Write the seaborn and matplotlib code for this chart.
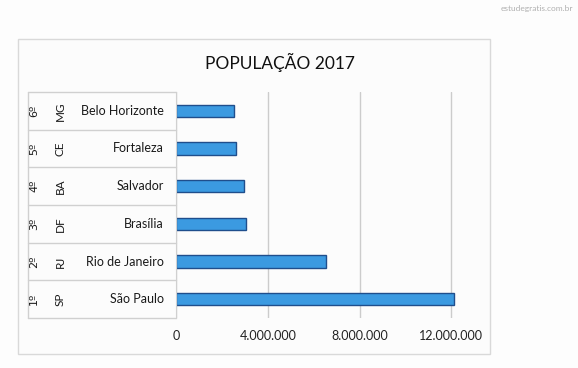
import matplotlib
matplotlib.use("Agg")
import matplotlib.pyplot as plt
import matplotlib.transforms as mtransforms
from matplotlib.patches import Rectangle
import pandas as pd
import seaborn as sns

# dados (de cima para baixo)
cidades = ["Belo Horizonte", "Fortaleza", "Salvador", "Brasília", "Rio de Janeiro", "São Paulo"]
ufs = ["MG", "CE", "BA", "DF", "RJ", "SP"]
posicoes = ["6º", "5º", "4º", "3º", "2º", "1º"]
populacao = [2523794, 2627482, 2953986, 3039444, 6520266, 12106920]
xticks = [0, 4000000, 8000000, 12000000]
xtick_labels = ["0", "4.000.000", "8.000.000", "12.000.000"]

df = pd.DataFrame({"cidade": cidades, "populacao": populacao})

sns.set_style("white")
plt.rcParams["font.family"] = ["Lato", "DejaVu Sans"]

W, H = 578, 368
fig = plt.figure(figsize=(W / 100, H / 100), dpi=100)
fig.patch.set_facecolor("#fdfdfd")

# moldura do gráfico
fig.add_artist(Rectangle((18 / W, 1 - 354 / H), 472 / W, 315 / H, transform=fig.transFigure,
                         facecolor="#fcfcfc", edgecolor="#d9d9d9", lw=1, zorder=-5))

left, right, top, bottom = 176, 478, 92, 318
ax = fig.add_axes([left / W, 1 - bottom / H, (right - left) / W, (bottom - top) / H])
ax.set_facecolor("none")
ax.set_zorder(1)

sns.barplot(data=df, x="populacao", y="cidade", order=cidades, orient="h", ax=ax,
            color="#3b9ae1", edgecolor="#1f4e8c", linewidth=1, width=0.33, saturation=1)

scale = 4000000 / 91.8  # valor por pixel
ax.set_xlim(0, (right - left) * scale)
ax.set_ylim(5.5, -0.5)
ax.set_xticks(xticks)
ax.set_xticklabels(xtick_labels, fontsize=9, color="#222222")
ax.tick_params(axis="x", length=0, pad=9)
ax.set_yticks([])
ax.set_xlabel("")
ax.set_ylabel("")
ax.grid(axis="x", color="#cccccc", lw=1)
ax.set_axisbelow(True)
for s in ["top", "right", "bottom"]:
    ax.spines[s].set_visible(False)
ax.spines["left"].set_color("#d0d0d0")

# tabela de categorias à esquerda
tr = mtransforms.blended_transform_factory(fig.transFigure, ax.transData)
for i in range(len(cidades)):
    ax.text(164 / W, i, cidades[i], transform=tr, ha="right", va="center", fontsize=9, color="#1a1a1a")
    ax.text(60 / W, i, ufs[i], transform=tr, ha="center", va="center", fontsize=8.5,
            rotation=90, color="#1a1a1a")
    ax.text(34 / W, i, posicoes[i], transform=tr, ha="center", va="center", fontsize=8,
            rotation=90, color="#1a1a1a", family="DejaVu Sans")
for b in [-0.5, 0.5, 1.5, 2.5, 3.5, 4.5, 5.5]:
    ax.plot([28 / W, left / W], [b, b], transform=tr, color="#d0d0d0", lw=1, clip_on=False)
ax.plot([28 / W, 28 / W], [-0.5, 5.5], transform=tr, color="#d0d0d0", lw=1, clip_on=False)

fig.text(280 / W, 1 - 62 / H, "POPULAÇÃO 2017", ha="center", va="center", fontsize=12.5, color="#111111")
fig.text(573 / W, 1 - 8 / H, "estudegratis.com.br", ha="right", va="center", fontsize=6, color="#b0b0b0")

fig.savefig("out.png", dpi=100, facecolor=fig.get_facecolor())
